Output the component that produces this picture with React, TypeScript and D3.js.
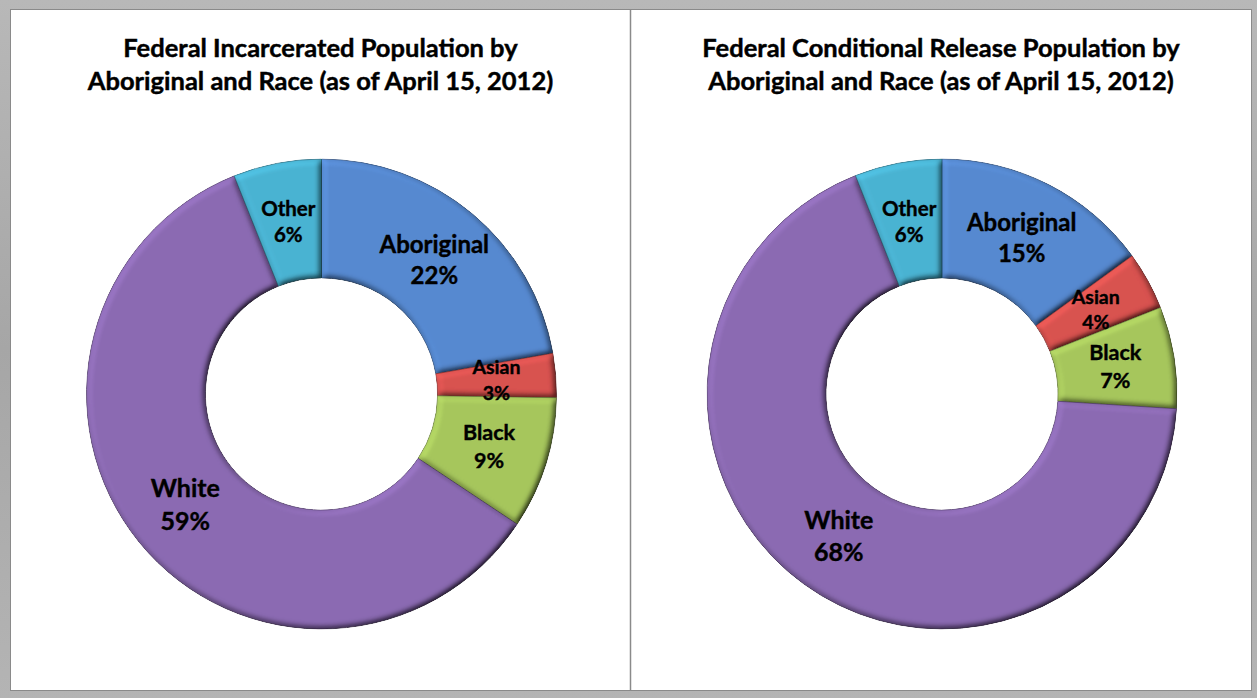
import React from "react";
import * as d3 from "d3";

const categories = ["Aboriginal", "Asian", "Black", "White", "Other"];
const incarceratedValues = [22, 3, 9, 59, 6];
const releaseValues = [15, 4, 7, 68, 6];
const leftTitle = ["Federal Incarcerated Population by", "Aboriginal and Race (as of April 15, 2012)"];
const rightTitle = ["Federal Conditional Release Population by", "Aboriginal and Race (as of April 15, 2012)"];

const colors: Record<string, string> = {
  Aboriginal: "#5689d0",
  Asian: "#d8524f",
  Black: "#a6c65c",
  White: "#8b6ab2",
  Other: "#4ab3d2",
};
const labelSize: Record<string, number> = {
  Aboriginal: 24,
  Asian: 19.5,
  Black: 21.5,
  White: 25,
  Other: 20.5,
};

const W = 1257;
const H = 698;
const FONT = "Lato, 'Open Sans', sans-serif";

type DonutProps = { x0: number; x1: number; values: number[]; title: string[] };

function Donut({ x0, x1, values, title }: DonutProps) {
  const cx = (x0 + x1) / 2 + 1;
  const cy = 394;
  const outer = 235;
  const inner = 116;
  const data = categories.map((c, i) => ({ name: c, value: values[i] }));
  const pie = d3.pie<{ name: string; value: number }>().sort(null).value((d) => d.value);
  const arcs = pie(data);
  const arc = d3.arc<d3.PieArcDatum<{ name: string; value: number }>>().innerRadius(inner).outerRadius(outer);
  const tcx = (x0 + x1) / 2;
  const titleProps = {
    textAnchor: "middle" as const,
    fontFamily: FONT,
    fontWeight: 700,
    fontSize: 25.5,
    fill: "#000",
    stroke: "#000",
    strokeWidth: 0.45,
  };
  return (
    <g>
      <text x={tcx} y={57} {...titleProps}>
        {title[0]}
      </text>
      <text x={tcx} y={90} {...titleProps}>
        {title[1]}
      </text>
      <g transform={`translate(${cx},${cy})`}>
        {arcs.map((a) => (
          <path
            key={a.data.name}
            d={arc(a) || ""}
            fill={colors[a.data.name]}
            stroke={d3.color(colors[a.data.name])!.darker(1.2).formatHex()}
            strokeWidth={0.8}
            filter="url(#bevel)"
          />
        ))}
        {arcs.map((a) => {
          const [lx, ly] = arc.centroid(a);
          const fs = labelSize[a.data.name];
          const spacing = fs * 1.3;
          const b1 = ly - spacing / 2 + fs * 0.36;
          return (
            <text
              key={a.data.name}
              textAnchor="middle"
              fontFamily={FONT}
              fontWeight={700}
              fontSize={fs}
              fill="#000"
              stroke="#000"
              strokeWidth={0.4}
            >
              <tspan x={lx} y={b1}>{a.data.name}</tspan>
              <tspan x={lx} y={b1 + spacing}>{`${a.data.value}%`}</tspan>
            </text>
          );
        })}
      </g>
    </g>
  );
}

export default function App() {
  return (
    <svg width={W} height={H} style={{ position: "absolute", left: 0, top: 0 }}>
      <defs>
        <linearGradient id="frameV" x1="0" y1="0" x2="0" y2="1">
          <stop offset="0" stopColor="#b8b8b8" />
          <stop offset="0.5" stopColor="#a6a6a6" />
          <stop offset="1" stopColor="#b4b4b4" />
        </linearGradient>
        <filter id="bevel" x="-5%" y="-5%" width="110%" height="110%">
          <feGaussianBlur in="SourceAlpha" stdDeviation="3" result="b" />
          <feDiffuseLighting in="b" surfaceScale="5" diffuseConstant="1" lightingColor="#ffffff" result="d">
            <feDistantLight azimuth="225" elevation="55" />
          </feDiffuseLighting>
          <feComposite in="SourceGraphic" in2="d" operator="arithmetic" k1="1.22" k2="0" k3="0" k4="0" result="lit" />
          <feComposite in="lit" in2="SourceAlpha" operator="in" />
        </filter>
      </defs>
      <rect x={0} y={0} width={W} height={H} fill="url(#frameV)" />
      <rect x={10.5} y={9.5} width={1241} height={681} fill="#ffffff" stroke="#8a8a8a" strokeWidth={1} />
      <line x1={630.5} y1={9.5} x2={630.5} y2={690.5} stroke="#8a8a8a" strokeWidth={1.5} />
      <Donut x0={11} x1={630} values={incarceratedValues} title={leftTitle} />
      <Donut x0={631} x1={1251} values={releaseValues} title={rightTitle} />
    </svg>
  );
}
